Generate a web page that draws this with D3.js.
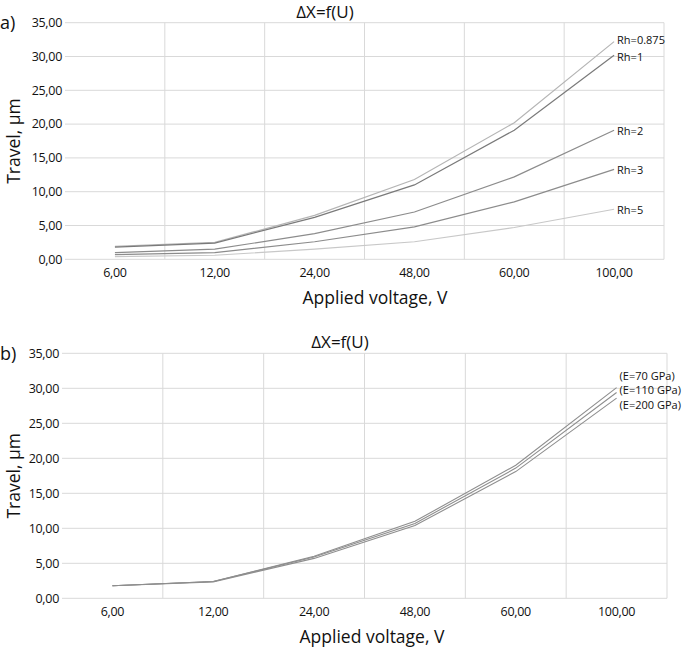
<!DOCTYPE html>
<html>
<head>
<meta charset="utf-8">
<script src="https://cdn.jsdelivr.net/npm/d3@7"></script>
<style>
  body { margin: 0; background: #fff; }
  svg text { font-family: "Open Sans", "Noto Sans", sans-serif; fill: #111; }
</style>
</head>
<body>
<div id="chart"></div>
<script>
// categories (applied voltage) and y ticks
const voltages = ["6,00", "12,00", "24,00", "48,00", "60,00", "100,00"];
const yTicks = [0, 5, 10, 15, 20, 25, 30, 35];

// panel a) - travel for different Rh
const rh0875 = [1.9, 2.5, 6.5, 11.8, 20.2, 32.2];
const rh1 = [1.8, 2.4, 6.2, 11.0, 19.1, 30.2];
const rh2 = [1.0, 1.5, 3.8, 7.0, 12.2, 19.1];
const rh3 = [0.7, 1.0, 2.6, 4.8, 8.5, 13.3];
const rh5 = [0.4, 0.6, 1.5, 2.6, 4.7, 7.4];

// panel b) - travel for different E
const e70 = [1.8, 2.4, 6.0, 11.0, 19.0, 30.1];
const e110 = [1.8, 2.4, 5.9, 10.7, 18.6, 29.4];
const e200 = [1.8, 2.35, 5.7, 10.4, 18.1, 28.6];

const svg = d3.select("#chart")
    .append("svg")
    .attr("width", 685)
    .attr("height", 653);

const fmt = d => d.toFixed(2).replace(".", ",");

function drawPanel(p) {
    const x = d3.scaleBand().domain(voltages).range([p.left, p.right]).padding(0);
    const y = d3.scaleLinear().domain([0, 35]).range([p.bottom, p.top]);
    const g = svg.append("g");

    // horizontal gridlines
    g.selectAll(".hgrid")
        .data(yTicks)
        .enter().append("line")
        .attr("x1", p.left).attr("x2", p.right)
        .attr("y1", d => y(d)).attr("y2", d => y(d))
        .attr("stroke", "#d9d9d9").attr("stroke-width", 1);

    // vertical gridlines at category boundaries (no left one)
    const bounds = voltages.map(v => x(v) + x.bandwidth());
    g.selectAll(".vgrid")
        .data(bounds)
        .enter().append("line")
        .attr("x1", d => d).attr("x2", d => d)
        .attr("y1", p.top).attr("y2", p.bottom)
        .attr("stroke", "#d9d9d9").attr("stroke-width", 1);

    // y axis labels
    g.selectAll(".ytick")
        .data(yTicks)
        .enter().append("text")
        .attr("x", p.left - 3)
        .attr("y", d => y(d))
        .attr("dy", "0.35em")
        .attr("text-anchor", "end")
        .style("font-size", "12.5px")
        .style("letter-spacing", "-0.3px")
        .text(fmt);

    // x axis labels
    g.selectAll(".xtick")
        .data(voltages)
        .enter().append("text")
        .attr("x", d => x(d) + x.bandwidth() / 2)
        .attr("y", p.bottom + 13)
        .attr("dy", "0.35em")
        .attr("text-anchor", "middle")
        .style("font-size", "12.5px")
        .style("letter-spacing", "-0.3px")
        .text(d => d);

    const line = d3.line()
        .x((d, i) => x(voltages[i]) + x.bandwidth() / 2)
        .y(d => y(d));

    p.series.forEach(s => {
        g.append("path")
            .datum(s.values)
            .attr("fill", "none")
            .attr("stroke", s.color)
            .attr("stroke-width", p.lineWidth)
            .attr("d", line);

        const last = s.values.length - 1;
        g.append("text")
            .attr("x", x(voltages[last]) + x.bandwidth() / 2 + 3)
            .attr("y", y(s.values[last]) + s.dy)
            .attr("dy", "0.35em")
            .style("font-size", "11px")
            .text(s.name);
    });

    // titles
    g.append("text")
        .attr("x", p.titleX).attr("y", p.top - 5)
        .attr("text-anchor", "middle")
        .style("font-size", "17px")
        .text("\u0394X=f(U)");

    g.append("text")
        .attr("x", p.xTitleX).attr("y", p.bottom + 39)
        .attr("dy", "0.35em")
        .attr("text-anchor", "middle")
        .style("font-size", "17.5px")
        .text("Applied voltage, V");

    g.append("text")
        .attr("transform", `translate(14,${(p.top + p.bottom) / 2}) rotate(-90)`)
        .attr("dy", "0.35em")
        .attr("text-anchor", "middle")
        .style("font-size", "17.5px")
        .text("Travel, \u03bcm");

    g.append("text")
        .attr("x", 0).attr("y", p.top)
        .attr("dy", "0.35em")
        .style("font-size", "18px")
        .text(p.tag);
}

drawPanel({
    tag: "a)", left: 65, right: 664, top: 22.7, bottom: 259.3,
    titleX: 325, xTitleX: 375, lineWidth: 1.2,
    series: [
        { name: "Rh=0.875", values: rh0875, color: "#b5b5b5", dy: -1 },
        { name: "Rh=1", values: rh1, color: "#7a7a7a", dy: 2 },
        { name: "Rh=2", values: rh2, color: "#8c8c8c", dy: 1 },
        { name: "Rh=3", values: rh3, color: "#8c8c8c", dy: 1 },
        { name: "Rh=5", values: rh5, color: "#c8c8c8", dy: 1 }
    ]
});

drawPanel({
    tag: "b)", left: 62, right: 667, top: 353.3, bottom: 598.3,
    titleX: 340, xTitleX: 372, lineWidth: 1.1,
    series: [
        { name: "(E=70 GPa)", values: e70, color: "#8e8e8e", dy: -11.5 },
        { name: "(E=110 GPa)", values: e110, color: "#8e8e8e", dy: -2 },
        { name: "(E=200 GPa)", values: e200, color: "#8e8e8e", dy: 7.5 }
    ]
});
</script>
</body>
</html>
